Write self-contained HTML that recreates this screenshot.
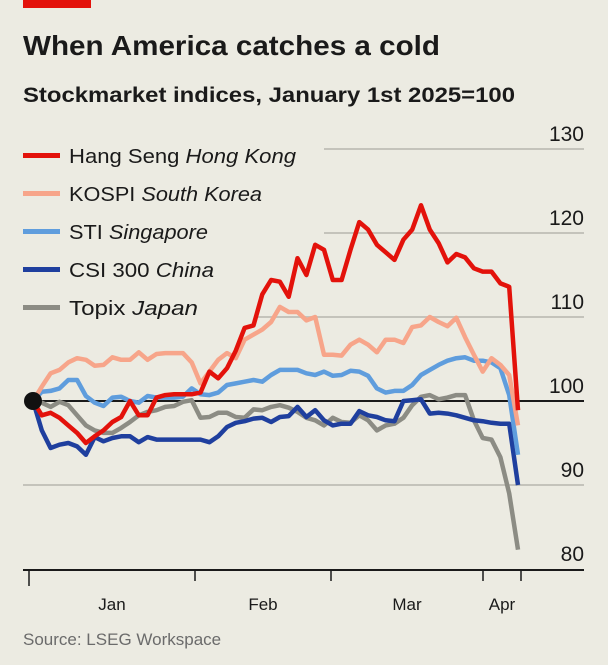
<!DOCTYPE html>
<html><head><meta charset="utf-8"><style>
html,body{margin:0;padding:0;background:#ecebe2;}
svg{display:block;font-family:"Liberation Sans",sans-serif;}
</style></head><body>
<svg width="608" height="665" viewBox="0 0 608 665">
<rect x="0" y="0" width="608" height="665" fill="#ecebe2"/>
<rect x="23" y="0" width="68" height="8" fill="#e3120b"/>
<text x="23" y="55" font-size="28" font-weight="bold" fill="#1a1a1a" textLength="417" lengthAdjust="spacingAndGlyphs">When America catches a cold</text>
<text x="23" y="102" font-size="21" font-weight="bold" fill="#1a1a1a" textLength="492" lengthAdjust="spacingAndGlyphs">Stockmarket indices, January 1st 2025=100</text>
<g id="grid"></g>
<g id="ylabels"></g>
<g id="legend"></g>
<g id="xaxis"></g>
<g id="lines"></g>
<text x="23" y="645" font-size="17" fill="#6b6b6b">Source: LSEG Workspace</text>
</svg>
<script>
const seriesNames = ["Topix","CSI 300","STI","KOSPI","Hang Seng"];
const topix = [100,99.8,99.3,99.9,99.5,98.3,97.1,96.5,96.2,96.2,96.8,97.5,98.3,98.7,98.9,99.3,99.4,99.9,100.1,98,98.1,98.6,98.6,98.1,98,99,98.9,99.3,99.5,99.2,98.7,98,97.7,97.1,98,97.5,97.4,98.3,97.7,96.5,97.1,97.3,98,99.5,100.5,100.7,100.2,100.4,100.7,100.7,97.7,95.6,95.4,93.3,89,82.3];
const csi300 = [100,96.5,94.4,94.8,95,94.6,93.6,95.7,95.2,95.6,95.8,95.8,95.1,95.7,95.4,95.4,95.4,95.4,95.4,95.4,95.1,95.8,96.9,97.4,97.6,97.9,98,97.5,98.1,98.2,99.3,98.1,98.9,97.7,97.1,97.3,97.3,98.8,98.3,98.1,97.7,97.6,100,100.1,100.2,98.5,98.6,98.5,98.3,98,97.7,97.6,97.4,97.3,97.3,90];
const sti = [100,101.1,101.2,101.5,102.5,102.5,100.6,99.8,99.4,100.4,100.5,100,99.8,100.6,100.4,100.4,100.4,100.5,101.5,100.8,100.7,101,101.9,102.1,102.3,102.5,102.3,103.1,103.7,103.7,103.7,103.3,103.1,103.5,103,103.1,103.6,103.5,103,101.5,101,101.2,101.2,101.9,103.1,103.7,104.3,104.8,105.1,105.2,104.8,104.8,104.6,103.9,100.7,93.6];
const kospi = [100,101.7,103.3,103.7,104.6,105.1,104.9,104.2,104.3,105.2,104.9,104.9,105.8,104.9,105.6,105.7,105.7,105.7,104.6,102.1,103.5,104.9,105.7,105.1,107.3,107.9,108.5,109.4,111.2,110.6,110.6,109.6,110,105.5,105.5,105.4,106.7,107.3,106.7,105.8,107.3,107.3,106.9,108.8,109,110,109.4,108.9,109.9,107.6,105.5,103.5,105.1,104.3,103.1,97.1];
const hangseng = [100,98.3,98.6,98,97.1,96.2,95,95.8,96.5,97.5,98.1,100,98.3,98.3,100.4,100.7,100.8,100.8,100.8,101,103.5,102.7,103.9,106,108.7,109,112.7,114.4,114.2,112.4,117,115,118.6,118,114.4,114.4,118,121.3,120.4,118.6,117.7,116.8,119.2,120.4,123.3,120.4,118.8,116.5,117.5,117.1,115.8,115.4,115.4,114,113.6,98.9];
const yTicks = [130,120,110,100,90,80];
const monthLabels = ["Jan","Feb","Mar","Apr"];

const NS="http://www.w3.org/2000/svg";
const x0=33,x1=518;
function xs(i,n){return x0+(x1-x0)*i/(n-1);}
function ys(v){return 401-(v-100)*8.4;}
function mk(tag,attrs,parent){const e=document.createElementNS(NS,tag);for(const k in attrs)e.setAttribute(k,attrs[k]);parent.appendChild(e);return e;}

const grid=document.getElementById('grid'), yl=document.getElementById('ylabels');
const gridStart={130:324,120:324,110:257,100:33,90:23,80:23};
yTicks.forEach(v=>{
  if(v!==80 && v!==100){
    const l=mk('line',{x1:gridStart[v],x2:584,y1:ys(v),y2:ys(v),stroke:'#c4c3bb','stroke-width':2},grid);
    
    
  }
  const t=mk('text',{x:584,y:ys(v)-8,'text-anchor':'end','font-size':21,fill:'#1a1a1a'},yl);
  t.textContent=v;
  
  
});

const xa=document.getElementById('xaxis');
const axis=mk('line',{x1:23,x2:584,y1:570,y2:570,stroke:'#1a1a1a','stroke-width':2},xa);


[[29,16],[195,11],[331,11],[483,11],[521,11]].forEach((tk,i)=>{
  const l=mk('line',{x1:tk[0],x2:tk[0],y1:570,y2:570+tk[1],stroke:'#1a1a1a','stroke-width':1.5},xa);
  
  
});
[112,263,407,502].forEach((cx,i)=>{
  const t=mk('text',{x:cx,y:610,'text-anchor':'middle','font-size':17,fill:'#1a1a1a'},xa);
  t.textContent=monthLabels[i];
  
  
});

const hundred=mk('line',{x1:33,x2:584,y1:ys(100),y2:ys(100),stroke:'#1a1a1a','stroke-width':2},grid);



const lines=document.getElementById('lines');
const all=[[topix,'#8c8c84','topix-line'],[csi300,'#1f3f9e','csi300-line'],[sti,'#5f9ddd','sti-line'],[kospi,'#f7a58a','kospi-line'],[hangseng,'#e3120b','hang-seng-line']];
all.forEach(s=>{
  const d=s[0].map((v,i)=>(i?'L':'M')+xs(i,s[0].length).toFixed(1)+','+ys(v).toFixed(1)).join(' ');
  const p=mk('path',{d:d,fill:'none',stroke:s[1],'stroke-width':4.5,'stroke-linejoin':'round'},lines);
  
  
});
const dot=mk('circle',{cx:x0,cy:ys(100),r:9,fill:'#111'},lines);



const lg=document.getElementById('legend');
const legendItems=[["Hang Seng","Hong Kong",'#e3120b',163,296],["KOSPI","South Korea",'#f7a58a',201,262],["STI","Singapore",'#5f9ddd',239,208],["CSI 300","China",'#1f3f9e',277,214],["Topix","Japan",'#8c8c84',315,198]];
legendItems.forEach(it=>{
  const g=mk('g',{},lg);
  
  
  const r=mk('rect',{x:23,y:it[3]-10,width:37,height:5,fill:it[2]},g);
  
  
  const t=mk('text',{x:69,y:it[3],'font-size':20,fill:'#1a1a1a',textLength:it[4]-69,lengthAdjust:'spacingAndGlyphs'},g);
  
  
  const a=mk('tspan',{},t);a.textContent=it[0]+' ';
  const b=mk('tspan',{'font-style':'italic'},t);b.textContent=it[1];
});
</script>
</body></html>
